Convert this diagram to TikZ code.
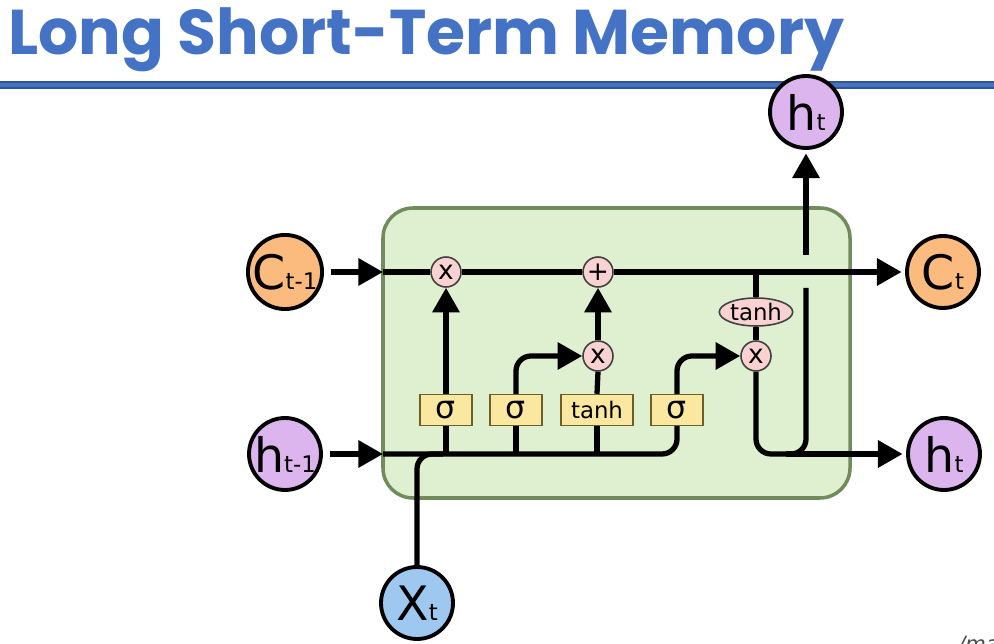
\documentclass[tikz,border=0pt]{standalone}
\usepackage{fontspec}
\setmainfont{DejaVu Sans}
\newfontfamily\titlefont{Poppins}
\usepackage{xcolor}
\usepackage{tikz}
\usetikzlibrary{arrows.meta}
\usetikzlibrary{calc}
\usetikzlibrary{shapes.geometric}

\definecolor{titleblue}{RGB}{68,114,196}
\definecolor{cellorange}{RGB}{251,187,126}
\definecolor{hpurple}{RGB}{220,180,238}
\definecolor{xblue}{RGB}{158,200,240}
\definecolor{oppink}{RGB}{250,210,210}
\definecolor{gateyellow}{RGB}{250,232,160}
\definecolor{gateedge}{RGB}{110,95,40}
\definecolor{cellgreen}{RGB}{222,240,208}
\definecolor{celledge}{RGB}{112,140,90}

\tikzset{
  state/.style={circle, draw=black, line width=2.2pt, minimum size=1.44cm, inner sep=0pt},
  gatebox/.style={rectangle, draw=gateedge, fill=gateyellow, line width=0.8pt, minimum height=0.62cm, minimum width=1.04cm, inner sep=0pt},
  pointop/.style={circle, draw=black!75, fill=oppink, line width=0.9pt, minimum size=0.6cm, inner sep=0pt, font=\fontsize{15}{15}\selectfont},
  wire/.style={line width=3pt},
  flow/.style={wire, -{Triangle[length=14pt,width=15pt]}},
}
\newcommand{\bigsym}[2]{{\fontsize{27}{27}\selectfont #1}{\fontsize{13}{13}\selectfont #2}}

\begin{document}
\begin{tikzpicture}[x=0.02cm, y=-0.02cm]
\useasboundingbox (0,0) rectangle (994,644);
\clip (0,0) rectangle (994,644);
% title
\node[anchor=base west, inner sep=0pt, text=titleblue, font=\titlefont\bfseries\fontsize{36}{36}\selectfont] (title) at (8,55) {Long Short-Term Memory};
\draw[line width=4pt, titleblue!75!black] (0,85) -- (994,85);
\draw[line width=2.4pt, titleblue] (0,85) -- (994,85);
% cell body
\draw[fill=cellgreen, draw=celledge, line width=2pt, rounded corners=0.6cm] (383,208) rectangle (850,498);
\coordinate (cellin) at (383,272);
\coordinate (bus) at (383,454);
% inputs and outputs
\node[state, fill=cellorange] (ctprev) at (285,272) {\bigsym{C}{t-1}};
\node[state, fill=hpurple] (htprev) at (285,454) {\bigsym{h}{t-1}};
\node[state, fill=xblue] (xt) at (417,603) {\bigsym{X}{t}};
\node[state, fill=cellorange] (ctnext) at (943,272) {\bigsym{C}{t}};
\node[state, fill=hpurple] (htnext) at (944,454) {\bigsym{h}{t}};
\node[state, fill=hpurple] (htup) at (806,112) {\bigsym{h}{t}};
% gates
\node[gatebox, font=\fontsize{18}{18}\selectfont] (fgate) at (446,410) {σ};
\node[gatebox, font=\fontsize{18}{18}\selectfont] (igate) at (516,410) {σ};
\node[gatebox, minimum width=1.44cm, font=\fontsize{13}{13}\selectfont] (cgate) at (597,410) {tanh};
\node[gatebox, font=\fontsize{18}{18}\selectfont] (ogate) at (677,410) {σ};
% pointwise operations
\node[pointop] (mulf) at (446,272) {x};
\node[pointop] (addc) at (598,272) {+};
\node[pointop] (muli) at (598,356) {x};
\node[pointop] (mulo) at (756,356) {x};
\node[ellipse, draw=black!75, fill=oppink, line width=0.9pt, minimum width=1.44cm, minimum height=0.56cm, inner sep=0pt, font=\fontsize{13}{13}\selectfont] (tanhc) at (756,312) {tanh};
\coordinate (hsplit) at (806,454);
\coordinate (hgapbot) at (806,288);
\coordinate (hgaptop) at (806,255);
% cell state line
\draw[flow, shorten <=4pt] (ctprev) -- (cellin);
\draw[wire] (cellin) -- (mulf.west);
\draw[wire] (mulf.east) -- (addc.west);
\draw[flow, shorten >=2pt] (addc.east) -- (ctnext.west);
% hidden state bus
\draw[flow, shorten <=4pt] (htprev) -- (bus);
\draw[wire, rounded corners=0.3cm] (bus) -| (ogate.south);
\draw[wire, rounded corners=0.3cm] (xt.north) |- ($(bus)+(60,0)$);
\draw[wire] (fgate.south) -- (fgate |- bus);
\draw[wire] (igate.south) -- (igate |- bus);
\draw[wire] (cgate.south) -- (cgate |- bus);
% gate outputs
\draw[flow] (fgate.north) -- (mulf.south);
\draw[flow, rounded corners=0.3cm] (igate.north) |- (muli.west);
\draw[wire] (cgate.north) -- (muli.south);
\draw[flow] (muli.north) -- (addc.south);
\draw[flow, rounded corners=0.3cm] (ogate.north) |- (mulo.west);
\draw[wire] (tanhc.north) -- (tanhc |- cellin);
\draw[wire] (tanhc.south) -- (mulo.north);
% output
\draw[wire, rounded corners=0.3cm] (mulo.south) |- (hsplit) -- (hgapbot);
\draw[flow, shorten >=2pt] ($(hsplit)+(-20,0)$) -- (htnext.west);
\draw[flow, shorten >=2pt] (hgaptop) -- (htup.south);
\node[anchor=base west, inner sep=0pt, text=black!70, font=\itshape\fontsize{12}{12}\selectfont] (src) at (958,652) {/ma};
\end{tikzpicture}
\end{document}
